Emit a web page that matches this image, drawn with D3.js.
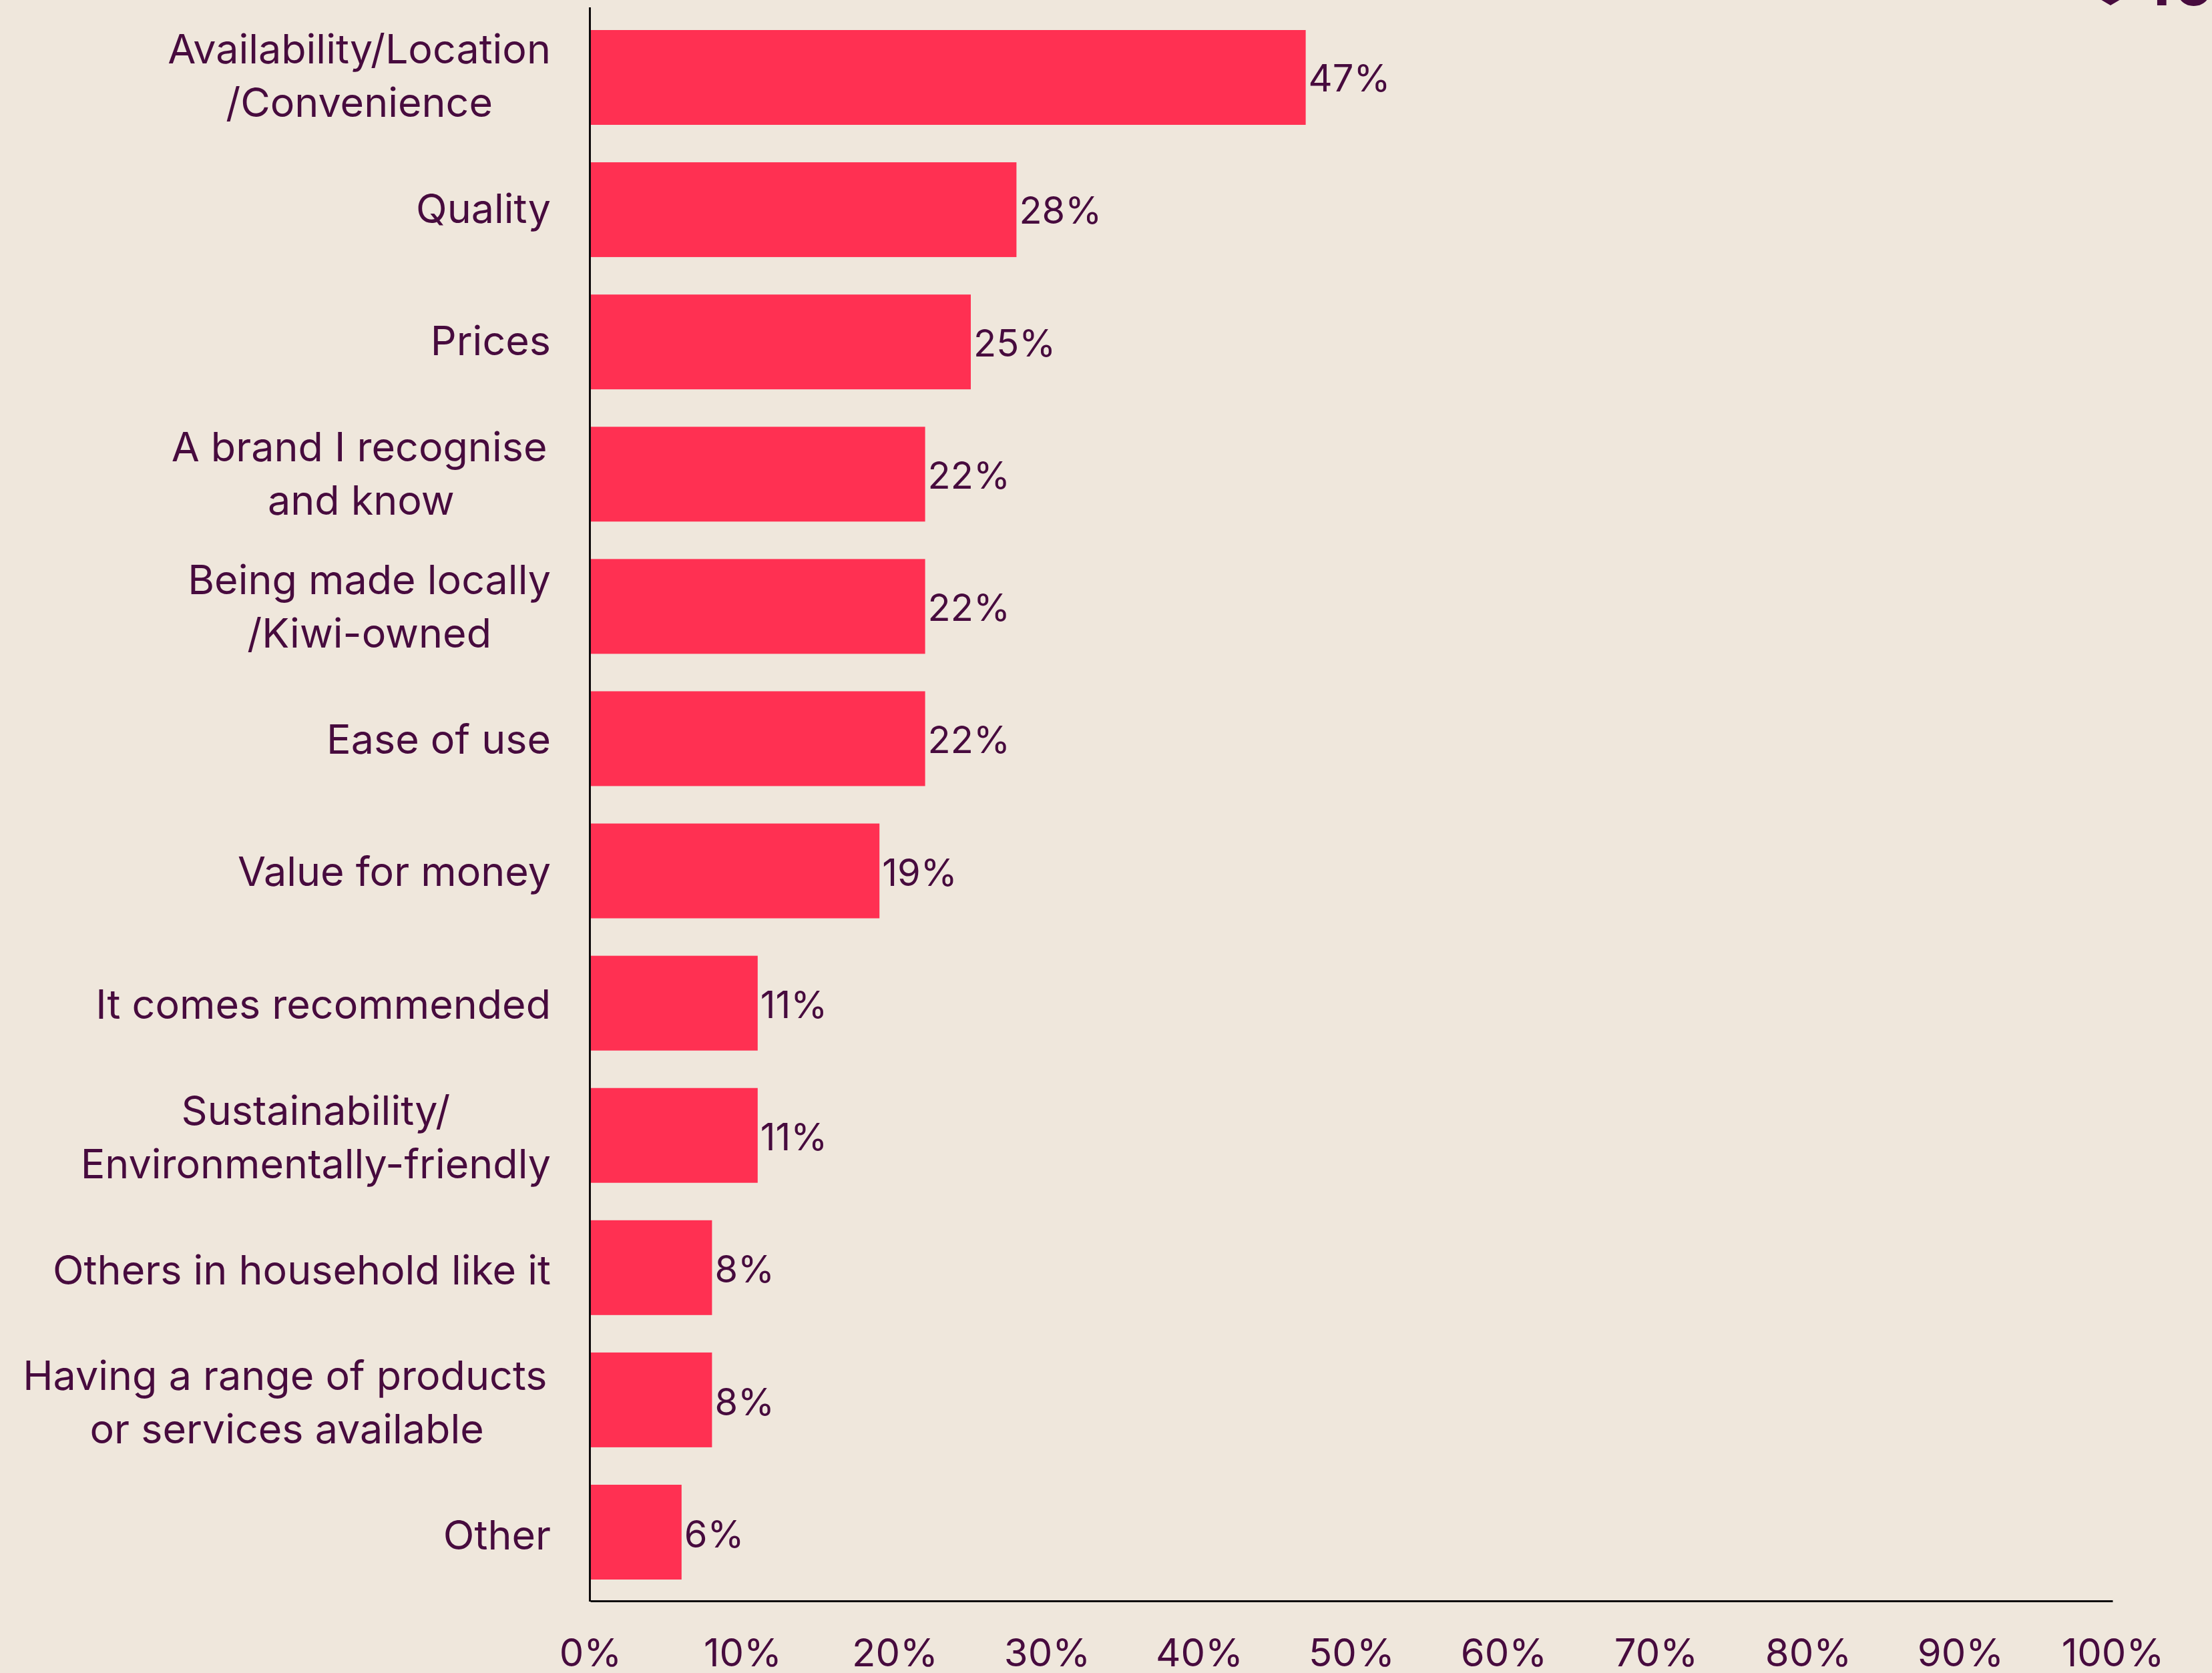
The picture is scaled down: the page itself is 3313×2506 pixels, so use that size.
<!DOCTYPE html>
<html>
<head>
<meta charset="utf-8">
<script src="https://cdn.jsdelivr.net/npm/d3@7"></script>
<style>
  html, body { margin: 0; padding: 0; background: #efe7dc; overflow: hidden; }
  text { font-family: Inter, sans-serif; fill: #470b3e; white-space: pre; }
</style>
</head>
<body>
<svg id="chart" width="3313" height="2506"></svg>
<script>
// Reasons for choosing a brand, share of respondents
const categoryLines = [
  ["Availability/Location", "/Convenience"],
  ["Quality"],
  ["Prices"],
  ["A brand I recognise\u200a", "and know"],
  ["Being made locally", "/Kiwi-owned"],
  ["Ease of use"],
  ["Value for money"],
  ["It comes recommended"],
  ["Sustainability/", "Environmentally-friendly"],
  ["Others in household like it"],
  ["Having a range of products\u200a", "or services available"],
  ["Other"]
];
const shares = [47, 28, 25, 22, 22, 22, 19, 11, 11, 8, 8, 6];
const axisTicks = [0, 10, 20, 30, 40, 50, 60, 70, 80, 90, 100];

const colours = { bar: "#ff3052", ink: "#470b3e", axis: "#0d0a0c" };
const categorySize = 61;
const valueSize = 56;
const tickSize = 58;
const lineHeight = 80;

const svg = d3.select("#chart");

const x = d3.scaleLinear().domain([0, 100]).range([884, 3164]);
const y = d3.scaleBand()
  .domain(d3.range(shares.length))
  .range([12, 2399])
  .paddingInner(0.2832)
  .paddingOuter(0.1666);

// Text rows run on a slightly longer pitch than the bars
const categoryBaseline = d3.scaleLinear()
  .domain([0, shares.length - 1])
  .range([135, 2321]);
const valueBaseline = d3.scaleLinear()
  .domain([0, shares.length - 1])
  .range([137, 2318]);

// Bars
svg.append("g").selectAll("rect")
  .data(shares)
  .join("rect")
  .attr("x", x(0))
  .attr("y", (d, i) => y(i))
  .attr("width", d => x(d) - x(0))
  .attr("height", y.bandwidth())
  .attr("fill", colours.bar);

// Value labels
svg.append("g").selectAll("text")
  .data(shares)
  .join("text")
  .attr("x", d => x(d) + 4)
  .attr("y", (d, i) => valueBaseline(i))
  .attr("font-size", valueSize)
  .text(d => d + "%");

// Category labels: lines are centred on each other, the block sits flush right
const labels = svg.append("g").selectAll("g")
  .data(categoryLines)
  .join("g");

labels.each(function (lines, i) {
  const g = d3.select(this);
  const top = categoryBaseline(i) - (lines.length - 1) * lineHeight / 2;
  const t = g.selectAll("text").data(lines).join("text")
    .attr("font-size", categorySize)
    .attr("y", (d, j) => top + j * lineHeight)
    .attr("text-anchor", "middle")
    .text(d => d);
  const widest = d3.max(t.nodes(), n => n.getComputedTextLength());
  t.attr("x", 825 - widest / 2);
});

// Axes
const xAxis = d3.axisBottom(x)
  .tickValues(axisTicks)
  .tickFormat(d => d + "%")
  .tickSize(0)
  .tickPadding(0);

const axisG = svg.append("g")
  .attr("transform", "translate(0,2398)")
  .call(xAxis);
axisG.select(".domain").attr("stroke", colours.axis).attr("stroke-width", 3);
axisG.selectAll("text")
  .attr("font-size", tickSize)
  .attr("font-family", "Inter, sans-serif")
  .attr("fill", colours.ink)
  .attr("dy", 0)
  .attr("y", 98);

svg.append("line")
  .attr("x1", x(0) - 0.5).attr("x2", x(0) - 0.5)
  .attr("y1", 11).attr("y2", 2399)
  .attr("stroke", colours.axis)
  .attr("stroke-width", 3);

// Brand mark cut off by the top edge
svg.append("path")
  .attr("d", d3.symbol(d3.symbolSquare, 3200)())
  .attr("transform", "translate(3161,-32) scale(1.7,1) rotate(45)")
  .attr("fill", colours.ink);
svg.append("text")
  .attr("x", 3211)
  .attr("y", 8)
  .attr("font-size", 92)
  .attr("font-weight", 700)
  .attr("letter-spacing", 4)
  .text("10");
</script>
</body>
</html>
